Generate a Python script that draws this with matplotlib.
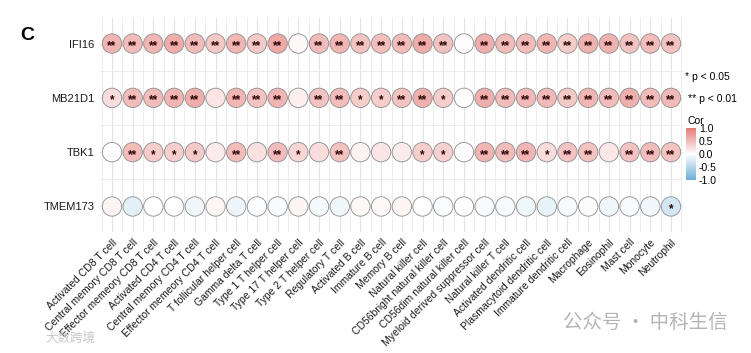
import numpy as np
import matplotlib
matplotlib.use("Agg")
import matplotlib.pyplot as plt
from matplotlib.colors import LinearSegmentedColormap, Normalize
from matplotlib.colorbar import ColorbarBase

plt.rcParams['font.family'] = ['Liberation Sans', 'DejaVu Sans']

## data
genes = ["IFI16", "MB21D1", "TBK1", "TMEM173"]
cells = ["Activated CD8 T cell", "Central memory CD8 T cell", "Effector memeory CD8 T cell",
         "Activated CD4 T cell", "Central memory CD4 T cell", "Effector memeory CD4 T cell",
         "T follicular helper cell", "Gamma delta T cell", "Type 1 T helper cell",
         "Type 17 T helper cell", "Type 2 T helper cell", "Regulatory T cell",
         "Activated B cell", "Immature B cell", "Memory B cell", "Natural killer cell",
         "CD56bright natural killer cell", "CD56dim natural killer cell",
         "Myeloid derived suppressor cell", "Natural killer T cell",
         "Activated dendritic cell", "Plasmacytoid dendritic cell",
         "Immature dendritic cell", "Macrophage", "Eosinophil", "Mast cell",
         "Monocyte", "Neutrophil"]

cor_ifi16 = [0.55, 0.50, 0.55, 0.62, 0.50, 0.40, 0.55, 0.40, 0.65, 0.05, 0.50, 0.55, 0.45, 0.48,
             0.50, 0.62, 0.45, 0.02, 0.60, 0.50, 0.50, 0.55, 0.38, 0.58, 0.58, 0.45, 0.50, 0.45]
cor_mb21d1 = [0.25, 0.50, 0.50, 0.55, 0.60, 0.20, 0.55, 0.45, 0.55, 0.12, 0.45, 0.50, 0.38, 0.38,
              0.45, 0.60, 0.38, 0.00, 0.60, 0.50, 0.52, 0.52, 0.40, 0.55, 0.50, 0.60, 0.50, 0.52]
cor_tbk1 = [0.00, 0.50, 0.38, 0.36, 0.40, 0.15, 0.50, 0.22, 0.50, 0.30, 0.25, 0.45, 0.10, 0.20,
            0.15, 0.38, 0.35, 0.02, 0.55, 0.50, 0.55, 0.25, 0.45, 0.45, 0.18, 0.45, 0.50, 0.45]
cor_tmem173 = [0.08, -0.18, 0.00, 0.00, -0.10, 0.07, -0.12, -0.02, -0.05, 0.08, -0.07, -0.10, 0.05, 0.05,
               0.08, 0.00, -0.04, 0.00, -0.05, -0.05, -0.10, -0.15, -0.05, 0.03, -0.10, -0.05, -0.10, -0.30]

sig_ifi16 = ["**"] * 9 + [""] + ["**"] * 7 + [""] + ["**"] * 10
sig_mb21d1 = ["*", "**", "**", "**", "**", "", "**", "**", "**", "", "**", "**", "*", "*",
              "**", "**", "*", "", "**", "**", "**", "**", "**", "**", "**", "**", "**", "**"]
sig_tbk1 = ["", "**", "*", "*", "*", "", "**", "", "**", "*", "", "**", "", "",
            "", "*", "*", "", "**", "**", "**", "*", "**", "**", "", "**", "**", "**"]
sig_tmem173 = [""] * 27 + ["*"]

cors = [cor_ifi16, cor_mb21d1, cor_tbk1, cor_tmem173]
sigs = [sig_ifi16, sig_mb21d1, sig_tbk1, sig_tmem173]

cmap = LinearSegmentedColormap.from_list("cor", ["#6BAED6", "#FFFFFF", "#E57B76"])
norm = Normalize(-1, 1)

fig = plt.figure(figsize=(7.51, 3.53), dpi=100)
ax = fig.add_axes([100 / 751, 1 - 232 / 353, 583 / 751, 214 / 353])

nx = len(cells)
ny = len(genes)
# grid lines at centers and between cells
for i in range(nx):
    ax.axvline(i, color="#E3E3E3", lw=0.8, zorder=0)
    ax.axvline(i + 0.5, color="#EAEAEA", lw=0.6, zorder=0)
ax.axvline(-0.5, color="#EAEAEA", lw=0.6, zorder=0)
for j in range(ny):
    ax.axhline(j, color="#E3E3E3", lw=0.8, zorder=0)
    ax.axhline(j + 0.5, color="#EAEAEA", lw=0.6, zorder=0)
ax.axhline(-0.5, color="#EAEAEA", lw=0.6, zorder=0)

for j, (c, s) in enumerate(zip(cors, sigs)):
    xs = np.arange(nx)
    ax.scatter(xs, np.full(nx, j), s=195, c=c, cmap=cmap, norm=norm,
               edgecolors="#8C8C8C", linewidths=0.6, zorder=2)
    for i, lab in enumerate(s):
        if lab:
            ax.text(i, j + 0.05, lab, ha="center", va="center", fontsize=8.5,
                    color="#2E0606", fontweight="bold", zorder=3)

ax.set_xlim(-0.58, nx - 0.42)
ax.set_ylim(ny - 0.53, -0.47)
ax.set_xticks(np.arange(nx))
ax.set_xticklabels(cells, rotation=45, ha="right", va="top", rotation_mode="anchor",
                   fontsize=7.5, color="#1A1A1A")
ax.set_yticks(np.arange(ny))
ax.set_yticklabels(genes, fontsize=8, color="#1A1A1A")
ax.tick_params(length=0, pad=4)
for sp in ax.spines.values():
    sp.set_visible(False)

fig.text(20 / 751, 1 - 36 / 353, "C", fontsize=14, fontweight="bold", va="center")

# significance legend
fig.text(685 / 751, 1 - 77 / 353, "* p < 0.05", fontsize=7.5, va="center")
fig.text(688 / 751, 1 - 99 / 353, "** p < 0.01", fontsize=7.5, va="center")

# colour bar
cax = fig.add_axes([686 / 751, 1 - 180 / 353, 10 / 751, 52 / 353])
cb = ColorbarBase(cax, cmap=cmap, norm=norm, ticks=[-1, -0.5, 0, 0.5, 1])
cb.outline.set_visible(False)
cb.ax.set_yticklabels(["-1.0", "-0.5", "0.0", "0.5", "1.0"])
cb.ax.tick_params(length=0, labelsize=7.5, pad=2)
fig.text(688 / 751, 1 - 121 / 353, "Cor", fontsize=7.5, va="center")

# watermarks
fig.text(563 / 751, 1 - 322 / 353, "公众号 · 中科生信", fontsize=14, color="#B5B5B5",
         va="center", family=["Noto Sans CJK SC", "DejaVu Sans"])
fig.text(45 / 751, 1 - 338 / 353, "大数跨境", fontsize=9, color="#C8C8C8",
         va="center", family=["Noto Sans CJK SC", "DejaVu Sans"])

fig.savefig("out.png", dpi=100)
